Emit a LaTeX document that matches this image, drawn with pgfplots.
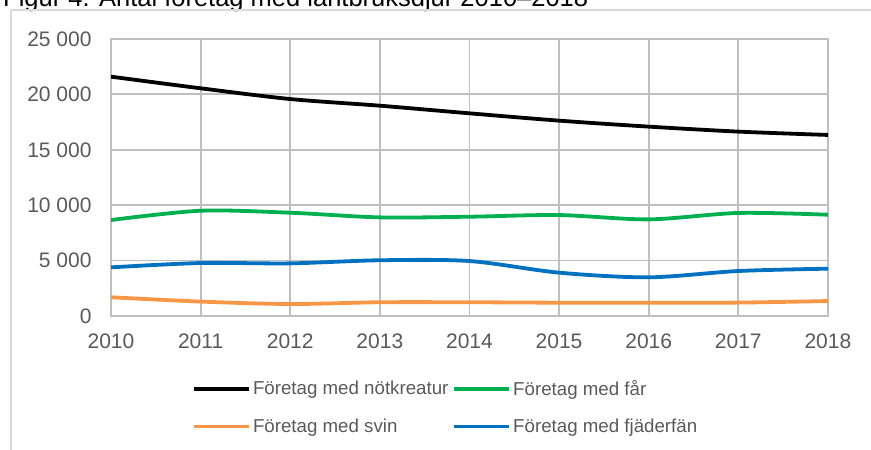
\documentclass[border=0pt]{standalone}
\usepackage{pgfplots}
\pgfplotsset{compat=1.18}
\usepackage{fontspec}
\setmainfont{Liberation Sans}
\definecolor{cBlack}{HTML}{000000}
\definecolor{cGreen}{HTML}{00B050}
\definecolor{cOrange}{HTML}{F79646}
\definecolor{cBlue}{HTML}{0070C0}
\definecolor{cGrid}{HTML}{BFBFBF}
\definecolor{cText}{HTML}{595959}
\definecolor{cFrame}{HTML}{D9D9D9}
\begin{document}
\begin{tikzpicture}[x=1bp,y=1bp]
\useasboundingbox (0,0) rectangle (871,450);
\clip (0,0) rectangle (871,450);
\node[anchor=base west, inner sep=0pt, font=\fontsize{25.5bp}{30bp}\selectfont] at (3,443.5) {Figur 4. Antal företag med lantbruksdjur 2010–2018};
\draw[cFrame, line width=1.2bp] (11,0) -- (11,440) -- (871,440);
\begin{axis}[
  at={(111bp,134bp)}, anchor=south west,
  scale only axis, width=717bp, height=277bp,
  xmin=2010, xmax=2018, ymin=0, ymax=25000,
  scaled y ticks=false, scaled x ticks=false,
  xtick={2010,...,2018},
  xticklabels={2010,2011,2012,2013,2014,2015,2016,2017,2018},
  ytick={0,5000,10000,15000,20000,25000},
  yticklabels={0,5 000,10 000,15 000,20 000,25 000},
  grid=major,
  major grid style={cGrid, line width=1.8bp},
  axis line style={cGrid, line width=1.8bp},
  tick style={draw=none},
  ticklabel style={font=\fontsize{21bp}{25bp}\selectfont, text=cText},
  xticklabel style={yshift=-14bp},
  yticklabel style={xshift=-16bp},
  legend columns=2,
  legend style={at={(0.1130,-0.225)}, anchor=north west, draw=none, fill=none,
    font=\fontsize{18.7bp}{22bp}\selectfont, text=cText,
    /tikz/every even column/.append style={column sep=2bp},
    row sep=18bp, inner sep=0pt, cells={anchor=west}},
  legend image code/.code={\draw[#1, line width=3.8bp] (0bp,0bp) -- (55bp,0bp);},
  legend cell align=left,
]
\addplot[cBlack, line width=3.8bp, smooth, tension=0.5] coordinates {
(2010,21600) (2011,20550) (2012,19580) (2013,18980) (2014,18290) (2015,17630) (2016,17090) (2017,16640) (2018,16340)};
\addlegendentry{Företag med nötkreatur}
\addplot[cGreen, line width=3.8bp, smooth, tension=0.5] coordinates {
(2010,8660) (2011,9500) (2012,9320) (2013,8900) (2014,8960) (2015,9110) (2016,8720) (2017,9300) (2018,9140)};
\addlegendentry{Företag med får}
\addplot[cOrange, line width=3.8bp, smooth, tension=0.5] coordinates {
(2010,1690) (2011,1300) (2012,1080) (2013,1240) (2014,1240) (2015,1200) (2016,1200) (2017,1210) (2018,1350)};
\addlegendentry{Företag med svin}
\addplot[cBlue, line width=3.8bp, smooth, tension=0.5] coordinates {
(2010,4390) (2011,4780) (2012,4750) (2013,5030) (2014,4960) (2015,3910) (2016,3490) (2017,4060) (2018,4270)};
\addlegendentry{Företag med fjäderfän}
\end{axis}
\end{tikzpicture}
\end{document}
